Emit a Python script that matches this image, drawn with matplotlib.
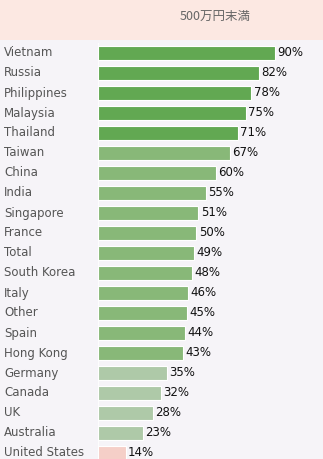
import matplotlib
matplotlib.use("Agg")
import matplotlib.pyplot as plt
from matplotlib.patches import Rectangle
from matplotlib.transforms import blended_transform_factory

title = "500万円末満"
countries = ["Vietnam", "Russia", "Philippines", "Malaysia", "Thailand", "Taiwan",
             "China", "India", "Singapore", "France", "Total", "South Korea", "Italy",
             "Other", "Spain", "Hong Kong", "Germany", "Canada", "UK", "Australia",
             "United States"]
values = [90, 82, 78, 75, 71, 67, 60, 55, 51, 50, 49, 48, 46, 45, 44, 43,
          35, 32, 28, 23, 14]


def bar_color(v):
    if v >= 70:
        return "#62a852"
    if v >= 40:
        return "#88b878"
    if v >= 20:
        return "#aec9a8"
    return "#f5cfc8"


W, H = 323, 459
fig = plt.figure(figsize=(W / 100, H / 100), dpi=100)
fig.patch.set_facecolor("#f6f4f8")

# header band
header_h = 40
fig.patches.append(Rectangle((0, 1 - header_h / H), 1, header_h / H,
                             transform=fig.transFigure, facecolor="#fce8e2",
                             edgecolor="none", zorder=0))
fig.text(215 / W, 1 - 16 / H, title, ha="center", va="center", fontsize=9,
         color="#666666", family=["Noto Sans CJK JP", "DejaVu Sans"])

left_px = 98
px_per_unit = 1.967
ax_w_px = W - left_px
row_px = 20
top_px = 43
ax = fig.add_axes([left_px / W, 0, ax_w_px / W, (H - top_px) / H])
ax.set_facecolor("none")
n = len(countries)
ax.set_xlim(0, ax_w_px / px_per_unit)
ax.set_ylim((H - top_px) / row_px - 0.5, -0.5)

ypos = list(range(n))
ax.barh(ypos, values, height=0.72, color=[bar_color(v) for v in values],
        edgecolor="white", linewidth=0.8)
ax.axvline(0, color="white", linewidth=1.2)

for y, v in zip(ypos, values):
    ax.text(v + 1.2, y, f"{v}%", ha="left", va="center", fontsize=8.5,
            color="#111111")

trans = blended_transform_factory(fig.transFigure, ax.transData)
for y, name in zip(ypos, countries):
    ax.text(4 / W, y, name, transform=trans, ha="left", va="center",
            fontsize=8.5, color="#555555")

for s in ax.spines.values():
    s.set_visible(False)
ax.set_xticks([])
ax.set_yticks([])

fig.savefig("out.png", dpi=100, facecolor=fig.get_facecolor())
